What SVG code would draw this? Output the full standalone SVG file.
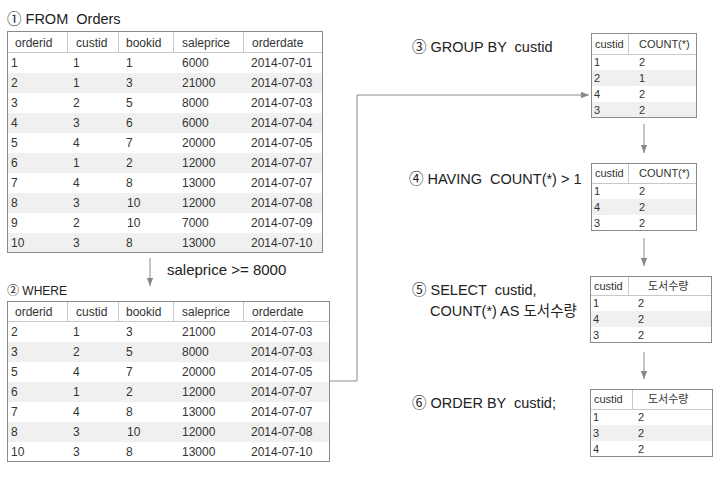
<svg xmlns="http://www.w3.org/2000/svg" width="725" height="477" viewBox="0 0 725 477">
<defs>
<style>
.t{font-family:"Liberation Sans","Noto Sans CJK KR","DejaVu Sans",sans-serif;fill:#222;white-space:pre}
.c{font-family:"Liberation Sans","Noto Sans CJK KR",sans-serif;font-size:12px;fill:#333}
.cs{font-family:"Liberation Sans","Noto Sans CJK KR",sans-serif;font-size:11px;fill:#333}
.box{fill:#fff;stroke:#8a8a8a;stroke-width:1}
.alt{fill:#f0f0f0}
.hl{stroke:#c8c8c8;stroke-width:1}
.conn{fill:none;stroke:#8a8a8a;stroke-width:1}
</style>
<marker id="ah" viewBox="0 0 10 10" refX="10" refY="5" markerWidth="8" markerHeight="8" markerUnits="userSpaceOnUse" orient="auto">
<path d="M0,1 L10,5 L0,9 z" fill="#8a8a8a"/>
</marker>
</defs>

<g id="connectors">
<path class="conn" d="M150,258 V286" marker-end="url(#ah)"/>
<path class="conn" d="M330,381 H357 V95 H589" marker-end="url(#ah)"/>
<path class="conn" d="M644,124 V153" marker-end="url(#ah)"/>
<path class="conn" d="M644,238 V266" marker-end="url(#ah)"/>
<path class="conn" d="M644,352 V379" marker-end="url(#ah)"/>
</g>

<g id="labels">
<text class="t" x="7" y="24" font-size="14.5">① FROM  Orders</text>
<text class="t" x="167" y="275" font-size="15">saleprice &gt;= 8000</text>
<text class="t" x="7" y="295" font-size="12">② WHERE</text>
<text class="t" x="412" y="52" font-size="14.5">③ GROUP BY  custid</text>
<text class="t" x="409" y="184" font-size="14.5">④ HAVING  COUNT(*) &gt; 1</text>
<text class="t" x="412" y="295" font-size="14.5">⑤ SELECT  custid,</text>
<text class="t" x="430" y="316" font-size="14.5">COUNT(*) AS 도서수량</text>
<text class="t" x="412" y="408" font-size="14.5">⑥ ORDER BY  custid;</text>
</g>

<g id="table-orders">
<rect class="box" x="7.5" y="31.5" width="315" height="221"/>
<rect class="alt" x="8" y="73" width="314" height="20"/>
<rect class="alt" x="8" y="113" width="314" height="20"/>
<rect class="alt" x="8" y="153" width="314" height="20"/>
<rect class="alt" x="8" y="193" width="314" height="20"/>
<rect class="alt" x="8" y="233" width="314" height="19"/>
<line class="hl" x1="8" y1="52.5" x2="322" y2="52.5"/>
<line class="hl" x1="67.5" y1="32" x2="67.5" y2="52"/>
<line class="hl" x1="118.5" y1="32" x2="118.5" y2="52"/>
<line class="hl" x1="173.5" y1="32" x2="173.5" y2="52"/>
<line class="hl" x1="243.5" y1="32" x2="243.5" y2="52"/>
<g class="c">
<text x="15" y="47">orderid</text><text x="76" y="47">custid</text><text x="126" y="47">bookid</text><text x="182" y="47">saleprice</text><text x="252" y="47">orderdate</text>
<text x="11" y="67">1</text><text x="73" y="67">1</text><text x="126" y="67">1</text><text x="182" y="67">6000</text><text x="251" y="67">2014-07-01</text>
<text x="11" y="87">2</text><text x="73" y="87">1</text><text x="126" y="87">3</text><text x="182" y="87">21000</text><text x="251" y="87">2014-07-03</text>
<text x="11" y="107">3</text><text x="73" y="107">2</text><text x="126" y="107">5</text><text x="182" y="107">8000</text><text x="251" y="107">2014-07-03</text>
<text x="11" y="127">4</text><text x="73" y="127">3</text><text x="126" y="127">6</text><text x="182" y="127">6000</text><text x="251" y="127">2014-07-04</text>
<text x="11" y="147">5</text><text x="73" y="147">4</text><text x="126" y="147">7</text><text x="182" y="147">20000</text><text x="251" y="147">2014-07-05</text>
<text x="11" y="167">6</text><text x="73" y="167">1</text><text x="126" y="167">2</text><text x="182" y="167">12000</text><text x="251" y="167">2014-07-07</text>
<text x="11" y="187">7</text><text x="73" y="187">4</text><text x="126" y="187">8</text><text x="182" y="187">13000</text><text x="251" y="187">2014-07-07</text>
<text x="11" y="207">8</text><text x="73" y="207">3</text><text x="127" y="207">10</text><text x="182" y="207">12000</text><text x="251" y="207">2014-07-08</text>
<text x="11" y="227">9</text><text x="73" y="227">2</text><text x="127" y="227">10</text><text x="182" y="227">7000</text><text x="251" y="227">2014-07-09</text>
<text x="11" y="247">10</text><text x="73" y="247">3</text><text x="126" y="247">8</text><text x="182" y="247">13000</text><text x="251" y="247">2014-07-10</text>
</g>
</g>

<g id="table-where">
<rect class="box" x="7.5" y="301.5" width="322" height="160"/>
<rect class="alt" x="8" y="342" width="321" height="20"/>
<rect class="alt" x="8" y="382" width="321" height="20"/>
<rect class="alt" x="8" y="422" width="321" height="20"/>
<line class="hl" x1="8" y1="321.5" x2="329" y2="321.5"/>
<line class="hl" x1="67.5" y1="302" x2="67.5" y2="321"/>
<line class="hl" x1="118.5" y1="302" x2="118.5" y2="321"/>
<line class="hl" x1="173.5" y1="302" x2="173.5" y2="321"/>
<line class="hl" x1="243.5" y1="302" x2="243.5" y2="321"/>
<g class="c">
<text x="15" y="316">orderid</text><text x="76" y="316">custid</text><text x="126" y="316">bookid</text><text x="182" y="316">saleprice</text><text x="252" y="316">orderdate</text>
<text x="11" y="336">2</text><text x="73" y="336">1</text><text x="126" y="336">3</text><text x="182" y="336">21000</text><text x="251" y="336">2014-07-03</text>
<text x="11" y="356">3</text><text x="73" y="356">2</text><text x="126" y="356">5</text><text x="182" y="356">8000</text><text x="251" y="356">2014-07-03</text>
<text x="11" y="376">5</text><text x="73" y="376">4</text><text x="126" y="376">7</text><text x="182" y="376">20000</text><text x="251" y="376">2014-07-05</text>
<text x="11" y="396">6</text><text x="73" y="396">1</text><text x="126" y="396">2</text><text x="182" y="396">12000</text><text x="251" y="396">2014-07-07</text>
<text x="11" y="416">7</text><text x="73" y="416">4</text><text x="126" y="416">8</text><text x="182" y="416">13000</text><text x="251" y="416">2014-07-07</text>
<text x="11" y="436">8</text><text x="73" y="436">3</text><text x="127" y="436">10</text><text x="182" y="436">12000</text><text x="251" y="436">2014-07-08</text>
<text x="11" y="456">10</text><text x="73" y="456">3</text><text x="126" y="456">8</text><text x="182" y="456">13000</text><text x="251" y="456">2014-07-10</text>
</g>
</g>

<g id="table-group">
<rect class="box" x="591.5" y="33.5" width="105" height="84"/>
<rect class="alt" x="592" y="70" width="104" height="16"/>
<rect class="alt" x="592" y="102" width="104" height="15"/>
<line class="hl" x1="592" y1="54.5" x2="696" y2="54.5"/>
<line class="hl" x1="628.5" y1="34" x2="628.5" y2="54"/>
<g class="cs">
<text x="595" y="48">custid</text><text x="639" y="48">COUNT(*)</text>
<text x="594" y="66">1</text><text x="639" y="66">2</text>
<text x="594" y="82">2</text><text x="639" y="82">1</text>
<text x="594" y="98">4</text><text x="639" y="98">2</text>
<text x="594" y="114">3</text><text x="639" y="114">2</text>
</g>
</g>

<g id="table-having">
<rect class="box" x="591.5" y="163.5" width="105" height="67"/>
<rect class="alt" x="592" y="199" width="104" height="16"/>
<line class="hl" x1="592" y1="183.5" x2="696" y2="183.5"/>
<line class="hl" x1="628.5" y1="164" x2="628.5" y2="183"/>
<g class="cs">
<text x="595" y="177">custid</text><text x="639" y="177">COUNT(*)</text>
<text x="594" y="195">1</text><text x="639" y="195">2</text>
<text x="594" y="211">4</text><text x="639" y="211">2</text>
<text x="594" y="227">3</text><text x="639" y="227">2</text>
</g>
</g>

<g id="table-select">
<rect class="box" x="590.5" y="276.5" width="121" height="66"/>
<rect class="alt" x="591" y="311" width="120" height="16"/>
<line class="hl" x1="591" y1="295.5" x2="711" y2="295.5"/>
<line class="hl" x1="628.5" y1="277" x2="628.5" y2="295"/>
<g class="cs">
<text x="594" y="290">custid</text><text x="648" y="290">도서수량</text>
<text x="593" y="307">1</text><text x="638" y="307">2</text>
<text x="593" y="323">4</text><text x="638" y="323">2</text>
<text x="593" y="339">3</text><text x="638" y="339">2</text>
</g>
</g>

<g id="table-order">
<rect class="box" x="590.5" y="389.5" width="122" height="67"/>
<rect class="alt" x="591" y="425" width="121" height="16"/>
<line class="hl" x1="591" y1="409.5" x2="712" y2="409.5"/>
<line class="hl" x1="632.5" y1="390" x2="632.5" y2="409"/>
<g class="cs">
<text x="594" y="403">custid</text><text x="648" y="403">도서수량</text>
<text x="593" y="421">1</text><text x="638" y="421">2</text>
<text x="593" y="437">3</text><text x="638" y="437">2</text>
<text x="593" y="453">4</text><text x="638" y="453">2</text>
</g>
</g>
</svg>
